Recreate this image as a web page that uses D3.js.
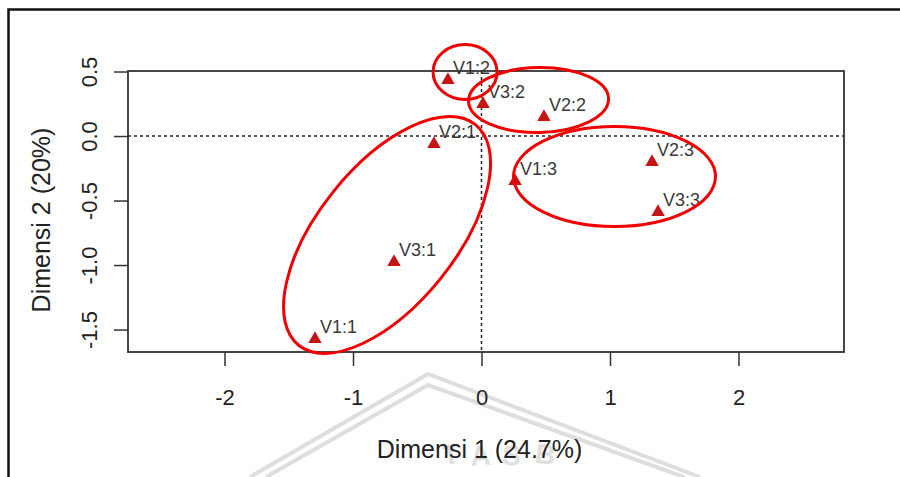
<!DOCTYPE html>
<html>
<head>
<meta charset="utf-8">
<script src="https://cdnjs.cloudflare.com/ajax/libs/d3/7.8.5/d3.min.js"></script>
<style>
  body { margin: 0; background: #fff; }
  #chart { width: 900px; height: 477px; overflow: hidden; }
  text { font-family: "Liberation Sans", Arial, sans-serif; }
</style>
</head>
<body>
<div id="chart"></div>
<script>
// point labels and coordinates (dimension 1, dimension 2)
var labels = ["V1:1", "V3:1", "V2:1", "V1:2", "V3:2", "V2:2", "V1:3", "V2:3", "V3:3"];
var dim1 = [-1.296, -0.681, -0.370, -0.261, 0.012, 0.486, 0.261, 1.327, 1.374];
var dim2 = [-1.574, -0.977, -0.062, 0.434, 0.248, 0.147, -0.349, -0.202, -0.589];

// tick values
var xTicks = [-2, -1, 0, 1, 2];
var yTicks = [0.5, 0.0, -0.5, -1.0, -1.5];

// hand drawn group ellipses (data units, rotation in degrees)
var ellCx = [-0.128, 0.444, -0.735, 1.035];
var ellCy = [0.496, 0.279, -0.767, -0.314];
var ellRx = [0.249, 0.545, 1.10, 0.786];
var ellRy = [0.213, 0.252, 0.535, 0.388];
var ellRot = [0, -1, -51.3, 0];

var margin = {top: 71, right: 56, bottom: 125, left: 128},
    width = 900 - margin.left - margin.right,
    height = 477 - margin.top - margin.bottom;

var svg = d3.select("#chart").append("svg")
    .attr("width", 900)
    .attr("height", 477);

// outer frame of the screenshot
svg.append("rect")
    .attr("x", 8.5).attr("y", 9.5)
    .attr("width", 1000).attr("height", 1000)
    .attr("fill", "none")
    .attr("stroke", "#111")
    .attr("stroke-width", 2.5);

// faint watermark
var wm = svg.append("g").attr("fill", "none").attr("stroke", "#dedede").attr("stroke-width", 4);
wm.append("polyline").attr("points", "250,477 428,374 700,477");
wm.append("polyline").attr("points", "266,477 428,385 684,477");
var wmText = svg.append("g").attr("fill", "#e0e0e0")
    .style("font-size", "28px").style("font-weight", "bold");
[["T", 452, 464, -8], ["A", 481, 465, -4], ["S", 511, 465, 3], ["B", 544, 464, 8]].forEach(function(l) {
  wmText.append("text").attr("transform", "translate(" + l[1] + "," + l[2] + ") rotate(" + l[3] + ")")
      .attr("text-anchor", "middle").text(l[0]);
});

var g = svg.append("g")
    .attr("transform", "translate(" + margin.left + "," + margin.top + ")");

var x = d3.scaleLinear().domain([-2.751, 2.821]).range([0, width]);
var y = d3.scaleLinear().domain([-1.674, 0.504]).range([height, 0]);

// zero reference lines
g.append("line")
    .attr("x1", 0).attr("x2", width)
    .attr("y1", y(0)).attr("y2", y(0))
    .attr("stroke", "#222").attr("stroke-width", 1.5).attr("stroke-dasharray", "3,3");
g.append("line")
    .attr("x1", x(0)).attr("x2", x(0))
    .attr("y1", 0).attr("y2", height)
    .attr("stroke", "#222").attr("stroke-width", 1.5).attr("stroke-dasharray", "3,3");

// x axis
var xAxis = g.append("g")
    .attr("transform", "translate(0," + height + ")")
    .call(d3.axisBottom(x).tickValues(xTicks).tickSize(14).tickSizeOuter(0).tickPadding(23)
      .tickFormat(d3.format("d")));
xAxis.select(".domain").remove();
xAxis.selectAll("line").attr("stroke", "#333").attr("stroke-width", 1.5);
xAxis.selectAll("text").attr("fill", "#222").style("font-size", "22px")
    .style("font-family", "'Liberation Sans', Arial, sans-serif")
    .text(function(d) { return d < 0 ? "-" + Math.abs(d) : d; });

// y axis
var yAxis = g.append("g")
    .call(d3.axisLeft(y).tickValues(yTicks).tickSize(14).tickSizeOuter(0)
      .tickFormat(d3.format(".1f")));
yAxis.select(".domain").remove();
yAxis.selectAll("line").attr("stroke", "#333").attr("stroke-width", 1.5);
yAxis.selectAll("text")
    .attr("x", 0).attr("y", 0).attr("dy", 0)
    .attr("transform", "translate(-31,0) rotate(-90)")
    .attr("text-anchor", "middle")
    .attr("fill", "#222").style("font-size", "22px")
    .style("font-family", "'Liberation Sans', Arial, sans-serif")
    .text(function(d) { return d < 0 ? "-" + Math.abs(d).toFixed(1) : d.toFixed(1); });

// plot box
g.append("rect")
    .attr("width", width).attr("height", height)
    .attr("fill", "none").attr("stroke", "#333").attr("stroke-width", 1.8);

// points
var pts = labels.map(function(l, i) { return {label: l, x: dim1[i], y: dim2[i]}; });

g.selectAll(".pt")
    .data(pts)
  .enter().append("path")
    .attr("class", "pt")
    .attr("d", d3.symbol().type(d3.symbolTriangle).size(78))
    .attr("transform", function(d) { return "translate(" + x(d.x) + "," + y(d.y) + ")"; })
    .attr("fill", "#c41414");

g.selectAll(".lbl")
    .data(pts)
  .enter().append("text")
    .attr("class", "lbl")
    .attr("x", function(d) { return x(d.x) + 5; })
    .attr("y", function(d) { return y(d.y) - 6; })
    .attr("fill", "#383838")
    .style("font-size", "18px")
    .text(function(d) { return d.label; });

// ellipses
var kx = x(1) - x(0), ky = y(0) - y(1);
ellCx.forEach(function(cx, i) {
  g.append("ellipse")
      .attr("transform", "translate(" + x(cx) + "," + y(ellCy[i]) + ") rotate(" + ellRot[i] + ")")
      .attr("rx", ellRx[i] * kx)
      .attr("ry", ellRy[i] * ky)
      .attr("fill", "none")
      .attr("stroke", "#f00000")
      .attr("stroke-width", 3);
});

// axis titles
svg.append("text")
    .attr("x", 479.5).attr("y", 458)
    .attr("text-anchor", "middle")
    .attr("fill", "#222")
    .style("font-size", "25px")
    .text("Dimensi 1 (24.7%)");

svg.append("text")
    .attr("transform", "translate(50,220) rotate(-90)")
    .attr("text-anchor", "middle")
    .attr("fill", "#222")
    .style("font-size", "25px")
    .text("Dimensi 2 (20%)");
</script>
</body>
</html>
